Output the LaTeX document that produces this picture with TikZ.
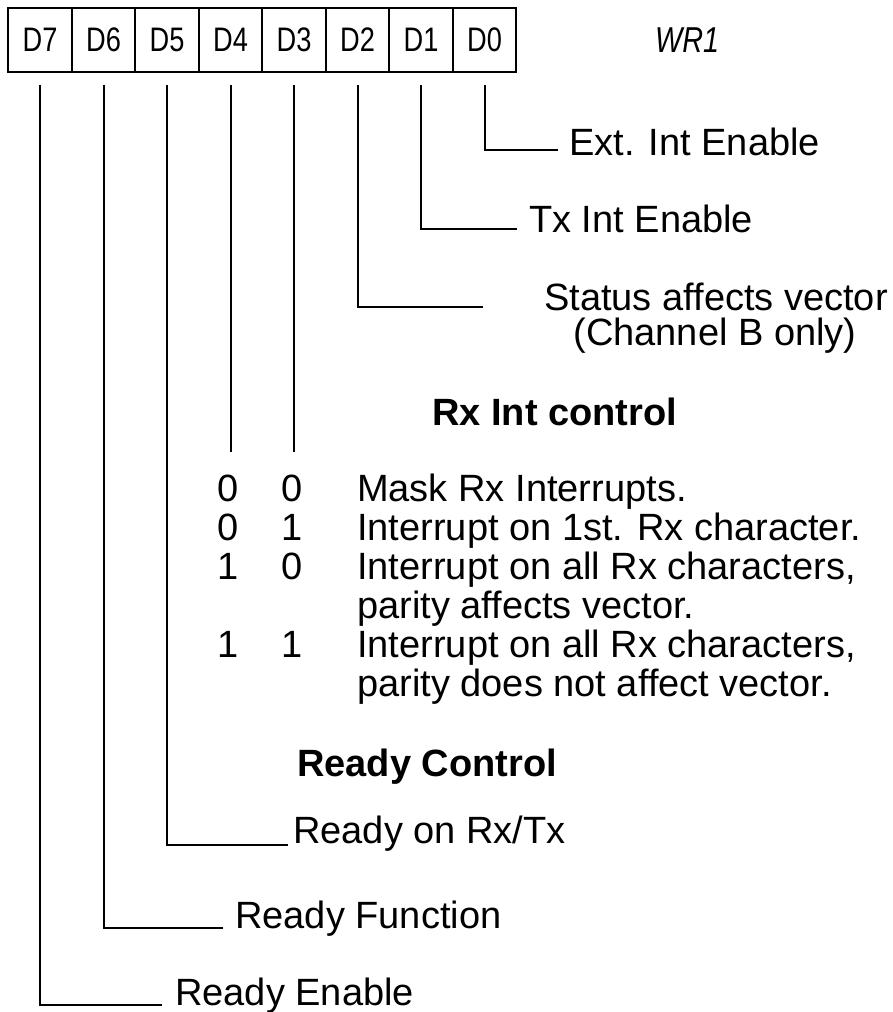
\documentclass[tikz,border=0pt]{standalone}
\usepackage{fontspec}
\setmainfont{Liberation Sans}
\newfontfamily\condfont[FakeStretch=0.8]{Liberation Sans}
\begin{document}
\begin{tikzpicture}[x=1pt,y=-1pt,
  wire/.style={line width=2pt},
  bitbox/.style={draw, line width=1.6pt, minimum width=63.5pt, minimum height=64pt,
    inner sep=0pt, font=\condfont\fontsize{34}{36}\selectfont},
  lbl/.style={anchor=base west, inner sep=0pt, font=\fontsize{38}{40}\selectfont},
  ctr/.style={anchor=base, inner sep=0pt, font=\fontsize{38}{40}\selectfont},
  head/.style={anchor=base west, inner sep=0pt, font=\bfseries\fontsize{38}{40}\selectfont}]
\useasboundingbox (0,0) rectangle (892,1012);

% register
\node[bitbox] (d7) at (40,40) {D7};
\node[bitbox] (d6) at (103.5,40) {D6};
\node[bitbox] (d5) at (167,40) {D5};
\node[bitbox] (d4) at (230.5,40) {D4};
\node[bitbox] (d3) at (294,40) {D3};
\node[bitbox] (d2) at (357.5,40) {D2};
\node[bitbox] (d1) at (421,40) {D1};
\node[bitbox] (d0) at (484.5,40) {D0};
\node[anchor=base west, inner sep=0pt, font=\condfont\itshape\fontsize{36}{38}\selectfont] (wr) at (655,52) {WR1};

% labels
\node[lbl] (ext) at (569,155) {Ext. Int Enable};
\node[lbl] (tx) at (529,232) {Tx Int Enable};
\node[ctr] (st1) at (716,310) {Status affects vector};
\node[ctr] (st2) at (715,345) {(Channel B only)};
\node[head] (rxh) at (432,425) {Rx Int control};

% table
\node[ctr] (a1) at (228,501) {0}; \node[ctr] (b1) at (292,501) {0};
\node[lbl] (t1) at (357,501) {Mask Rx Interrupts.};
\node[ctr] (a2) at (228,540) {0}; \node[ctr] (b2) at (292,540) {1};
\node[lbl] (t2) at (357,540) {Interrupt on 1st. Rx character.};
\node[ctr] (a3) at (228,579) {1}; \node[ctr] (b3) at (292,579) {0};
\node[lbl] (t3) at (357,579) {Interrupt on all Rx characters,};
\node[lbl] (t4) at (357,618) {parity affects vector.};
\node[ctr] (a5) at (228,657) {1}; \node[ctr] (b5) at (292,657) {1};
\node[lbl] (t5) at (357,657) {Interrupt on all Rx characters,};
\node[lbl] (t6) at (357,696) {parity does not affect vector.};

\node[head] (rdh) at (297,776) {Ready Control};
\node[lbl] (rrx) at (293,843) {Ready on Rx/Tx};
\node[lbl] (rfn) at (235,928) {Ready Function};
\node[lbl] (ren) at (175,1005) {Ready Enable};

% free ends
\coordinate (e2) at (483,307);
\coordinate (e4) at (230.5,452);
\coordinate (e3) at (294,452);

% connectors
\draw[wire] ([yshift=-12pt]d0.south) |- ([xshift=-11pt,yshift=5pt]ext.base west);
\draw[wire] ([yshift=-12pt]d1.south) |- ([xshift=-12pt,yshift=3pt]tx.base west);
\draw[wire] ([yshift=-12pt]d2.south) |- (e2);
\draw[wire] ([yshift=-12pt]d3.south) -- (e3);
\draw[wire] ([yshift=-12pt]d4.south) -- (e4);
\draw[wire] ([yshift=-12pt]d5.south) |- ([xshift=-5pt,yshift=-2pt]rrx.base west);
\draw[wire] ([yshift=-12pt]d6.south) |- ([xshift=-12pt]rfn.base west);
\draw[wire] ([yshift=-12pt]d7.south) |- ([xshift=-13pt]ren.base west);
\end{tikzpicture}
\end{document}
